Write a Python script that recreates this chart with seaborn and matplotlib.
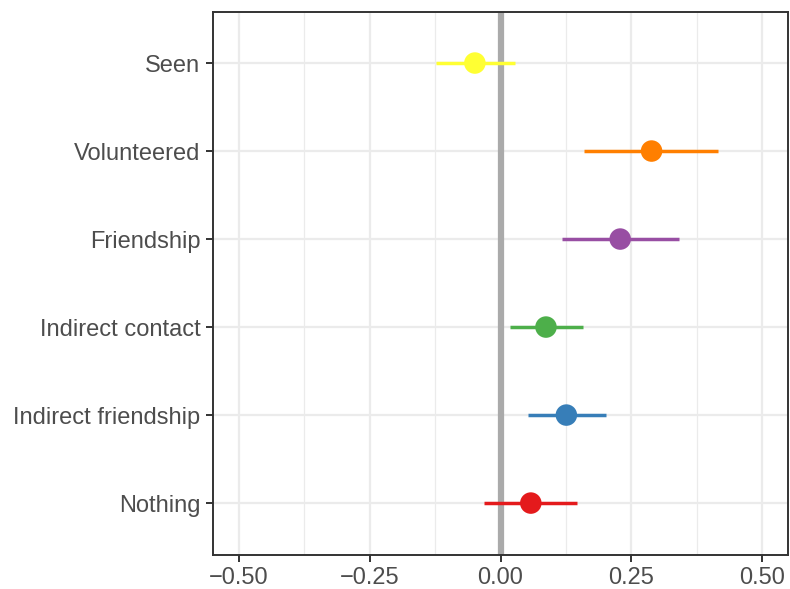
import matplotlib
matplotlib.use("Agg")
import matplotlib.pyplot as plt
import seaborn as sns
import pandas as pd
import numpy as np

# Estimates with confidence intervals, listed bottom to top
predictors = ["Nothing", "Indirect friendship", "Indirect contact",
              "Friendship", "Volunteered", "Seen"]
estimate = [0.058, 0.126, 0.087, 0.229, 0.289, -0.049]
ci_low = [-0.031, 0.053, 0.018, 0.117, 0.160, -0.124]
ci_high = [0.147, 0.201, 0.158, 0.341, 0.417, 0.027]
colors = ["#E41A1C", "#377EB8", "#4DAF4A", "#984EA3", "#FF7F00", "#FFFF33"]
x_ticks = [-0.50, -0.25, 0.00, 0.25, 0.50]
x_minor = [-0.375, -0.125, 0.125, 0.375]

df = pd.DataFrame({
    "predictor": predictors,
    "pos": np.arange(len(predictors)),
    "estimate": estimate,
    "low": ci_low,
    "high": ci_high,
})
palette = dict(zip(predictors, colors))

sns.set_theme(style="white")
plt.rcParams["font.family"] = ["Liberation Sans", "DejaVu Sans"]

fig = plt.figure(figsize=(7.9, 5.89), dpi=100)
ax = fig.add_axes([213 / 790, 1 - 555 / 589, 575 / 790, 543 / 589])

grid_c = "#EBEBEB"
for x in x_minor:
    ax.axvline(x, color=grid_c, lw=0.9, zorder=0)
for x in x_ticks:
    ax.axvline(x, color=grid_c, lw=1.6, zorder=0)
for y in df["pos"]:
    ax.axhline(y, color=grid_c, lw=1.6, zorder=0)

ax.axvline(0, color="#AAAAAA", lw=4.5, zorder=1)

for _, r in df.iterrows():
    ax.hlines(r["pos"], r["low"], r["high"], color=palette[r["predictor"]],
              lw=2.5, zorder=2)

sns.scatterplot(data=df, x="estimate", y="pos", hue="predictor",
                palette=palette, s=240, edgecolor="none", legend=False,
                ax=ax, zorder=3)

ax.set_xlim(-0.55, 0.55)
ax.set_ylim(-0.59, 5.58)
ax.set_xticks(x_ticks)
ax.set_xticklabels([f"{v:.2f}".replace("-", "\u2212") for v in x_ticks])
ax.set_yticks(df["pos"])
ax.set_yticklabels(predictors)
ax.set_xlabel("")
ax.set_ylabel("")

for s in ax.spines.values():
    s.set_color("#333333")
    s.set_linewidth(1.4)
    s.set_visible(True)

ax.tick_params(axis="both", which="major", length=5, width=1.4,
               color="#333333", labelcolor="#4D4D4D", labelsize=17,
               pad=4, bottom=True, left=True)

fig.savefig("out.png", dpi=100)
